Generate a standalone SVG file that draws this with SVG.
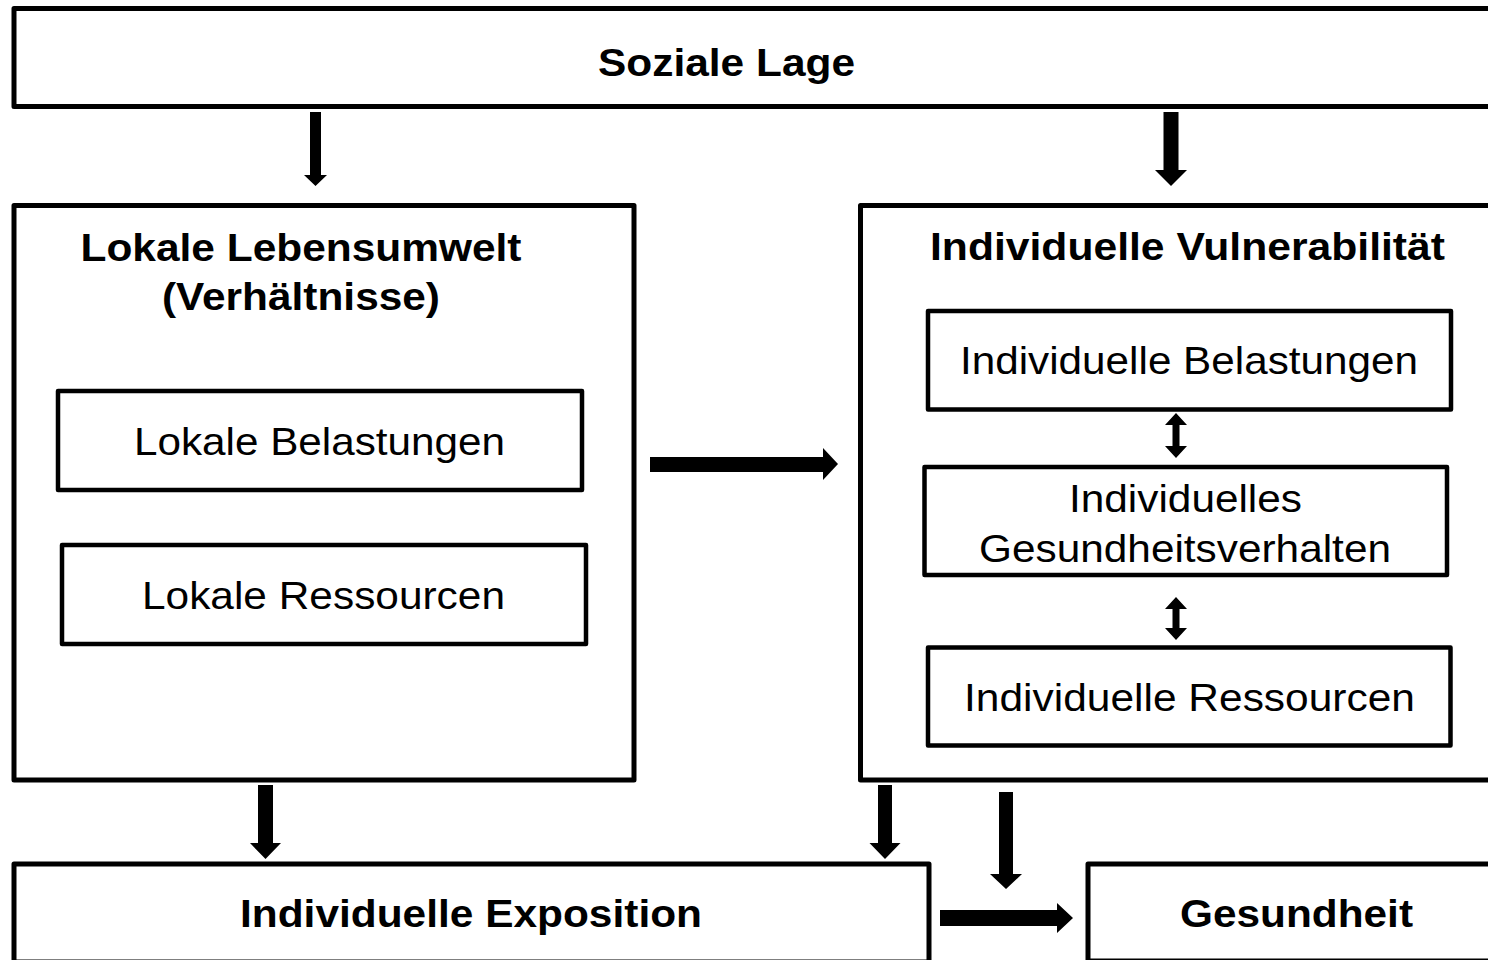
<svg xmlns="http://www.w3.org/2000/svg" width="1488" height="960" viewBox="0 0 1488 960">
<style>
.box{fill:#fff;stroke:#000;stroke-width:5;stroke-linejoin:round}
.ibox{fill:#fff;stroke:#000;stroke-width:4.5;stroke-linejoin:round}
.b{font-family:"Liberation Sans",Arial,sans-serif;font-weight:bold;font-size:38px;fill:#000}
.r{font-family:"Liberation Sans",Arial,sans-serif;font-size:39px;fill:#000}
.arr{fill:#000;stroke:none}
</style>
<rect width="1488" height="960" fill="#fff"/>
<g id="soziale-lage">
<rect class="box" x="14" y="8.5" width="1490" height="98"/>
<text class="b" x="726.5" y="76" text-anchor="middle" textLength="257" lengthAdjust="spacingAndGlyphs">Soziale Lage</text>
</g>
<g id="lokale-lebensumwelt">
<rect class="box" x="14" y="205.5" width="620" height="574.5"/>
<text class="b" x="301" y="261" text-anchor="middle" textLength="441" lengthAdjust="spacingAndGlyphs">Lokale Lebensumwelt</text>
<text class="b" x="301" y="310" text-anchor="middle" textLength="278" lengthAdjust="spacingAndGlyphs">(Verhältnisse)</text>
</g>
<g id="lokale-belastungen">
<rect class="ibox" x="58" y="391" width="524" height="99"/>
<text class="r" x="319.5" y="455" text-anchor="middle" textLength="371" lengthAdjust="spacingAndGlyphs">Lokale Belastungen</text>
</g>
<g id="lokale-ressourcen">
<rect class="ibox" x="62" y="545" width="524" height="99"/>
<text class="r" x="323.5" y="609" text-anchor="middle" textLength="363" lengthAdjust="spacingAndGlyphs">Lokale Ressourcen</text>
</g>
<g id="individuelle-vulnerabilitaet">
<rect class="box" x="860.5" y="205.5" width="650" height="574.5"/>
<text class="b" x="1187.5" y="260" text-anchor="middle" textLength="515" lengthAdjust="spacingAndGlyphs">Individuelle Vulnerabilität</text>
</g>
<g id="individuelle-belastungen">
<rect class="ibox" x="928" y="311" width="523" height="98.5"/>
<text class="r" x="1189" y="374" text-anchor="middle" textLength="458" lengthAdjust="spacingAndGlyphs">Individuelle Belastungen</text>
</g>
<g id="gesundheitsverhalten">
<rect class="ibox" x="924.5" y="467" width="522.5" height="108"/>
<text class="r" x="1185.5" y="511.5" text-anchor="middle" textLength="233" lengthAdjust="spacingAndGlyphs">Individuelles</text>
<text class="r" x="1185" y="561.5" text-anchor="middle" textLength="412" lengthAdjust="spacingAndGlyphs">Gesundheitsverhalten</text>
</g>
<g id="individuelle-ressourcen">
<rect class="ibox" x="928" y="647.5" width="522.5" height="98"/>
<text class="r" x="1189.5" y="711" text-anchor="middle" textLength="451" lengthAdjust="spacingAndGlyphs">Individuelle Ressourcen</text>
</g>
<g id="individuelle-exposition">
<rect class="box" x="14" y="864" width="915" height="98"/>
<text class="b" x="471" y="927" text-anchor="middle" textLength="462" lengthAdjust="spacingAndGlyphs">Individuelle Exposition</text>
</g>
<g id="gesundheit">
<rect class="box" x="1088" y="864" width="420" height="97"/>
<text class="b" x="1296.5" y="927" text-anchor="middle" textLength="233" lengthAdjust="spacingAndGlyphs">Gesundheit</text>
</g>
<g id="connectors">
<polygon class="arr" points="310,112 321,112 321,175 327,175 315.5,186 304,175 310,175"/>
<polygon class="arr" points="1163.5,112 1178.5,112 1178.5,170 1187,170 1171,186 1155,170 1163.5,170"/>
<polygon class="arr" points="650,457 823,457 823,448 838,464 823,480 823,472 650,472"/>
<polygon class="arr" points="1176,413 1187,425 1179.5,425 1179.5,446 1187,446 1176,458 1165,446 1172.5,446 1172.5,425 1165,425"/>
<polygon class="arr" points="1176,597 1187,609 1179.5,609 1179.5,628 1187,628 1176,640 1165,628 1172.5,628 1172.5,609 1165,609"/>
<polygon class="arr" points="258,785 273,785 273,843 281,843 265.5,859 250,843 258,843"/>
<polygon class="arr" points="878,785 892,785 892,843 900.5,843 885,859 869.5,843 878,843"/>
<polygon class="arr" points="999,792 1013,792 1013,874 1022,874 1006,889 990,874 999,874"/>
<polygon class="arr" points="940,910 1057,910 1057,903 1073,918 1057,933 1057,926 940,926"/>
</g>
</svg>
